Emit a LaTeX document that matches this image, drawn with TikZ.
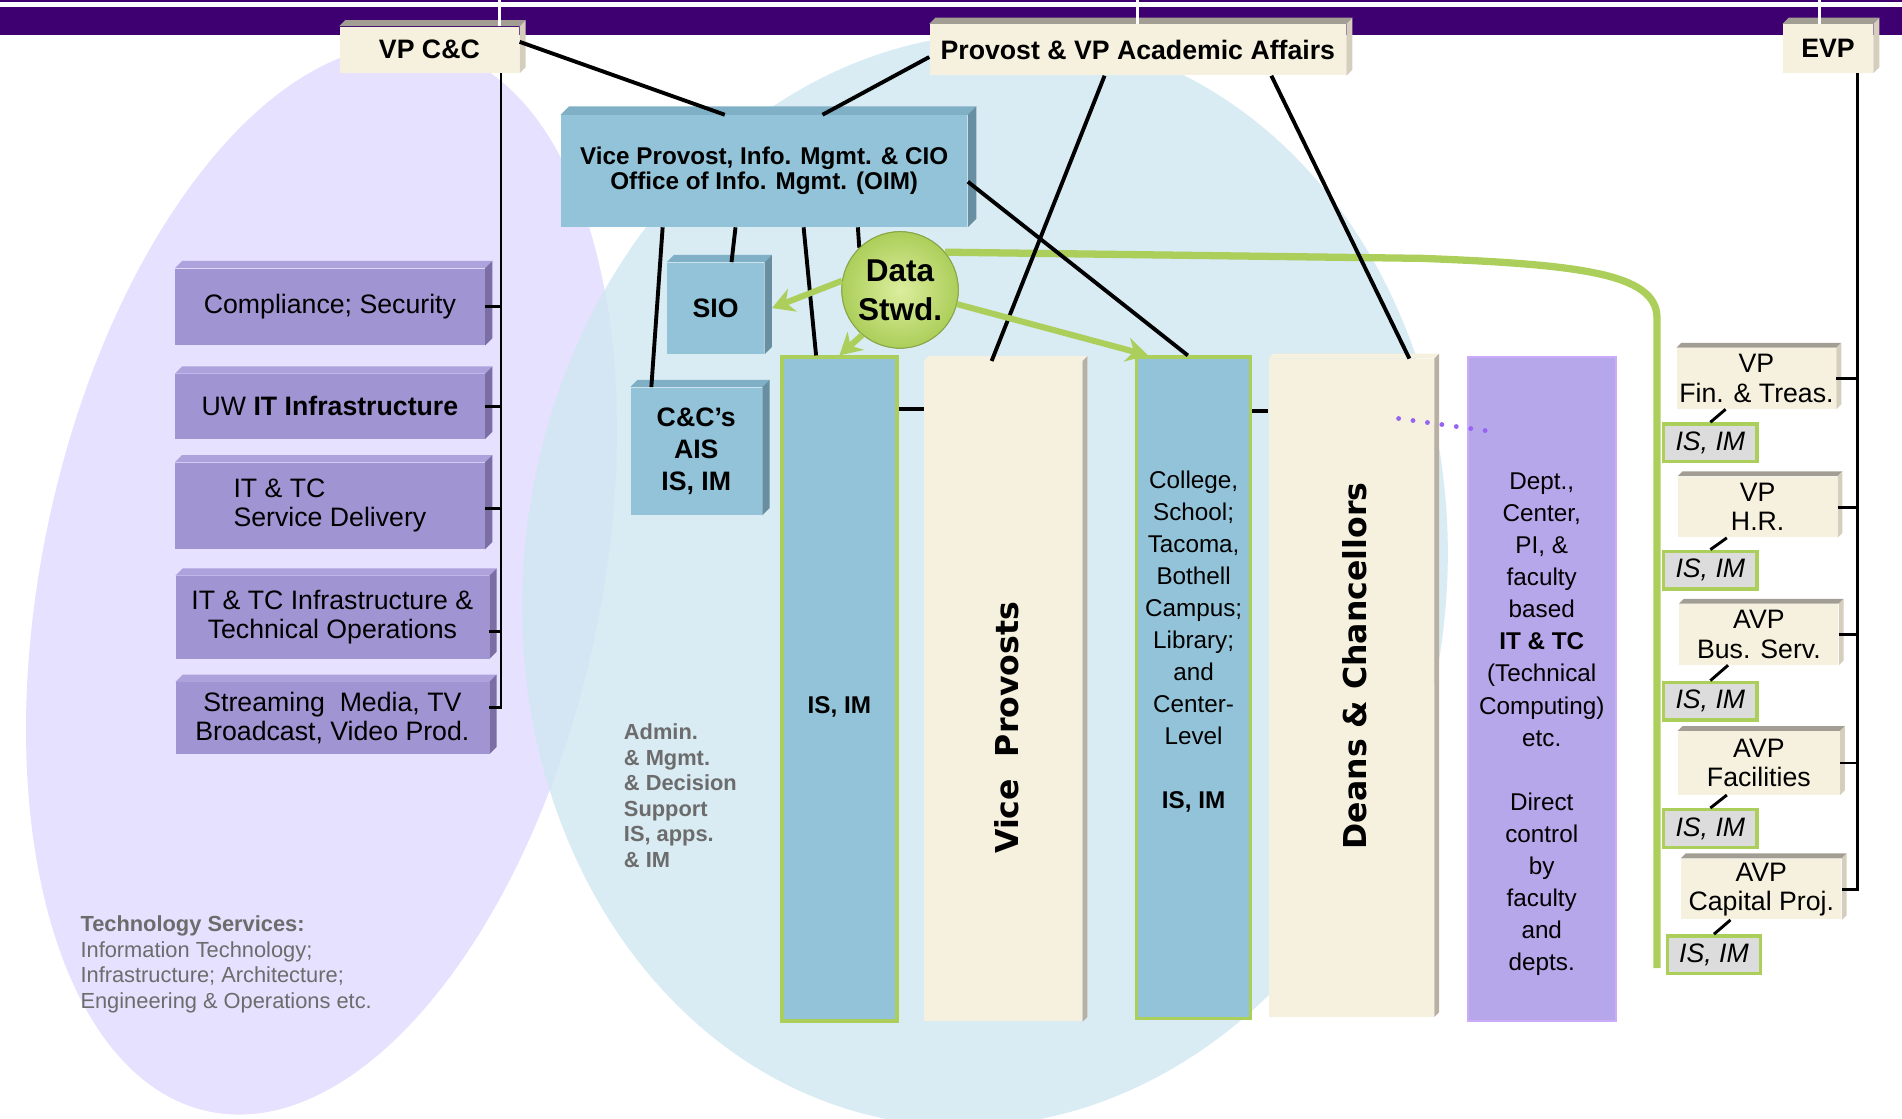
\documentclass[tikz,border=0pt]{standalone}
\usepackage{fontspec}
\setmainfont{Liberation Sans}
\newfontfamily\heavyfont{DejaVu Sans}
\usetikzlibrary{arrows.meta}
\definecolor{barcol}{RGB}{62,0,112}
\definecolor{creamcol}{RGB}{246,241,222}
\definecolor{creamtop}{RGB}{163,158,147}
\definecolor{creamside}{RGB}{214,206,188}
\definecolor{colside}{RGB}{184,176,160}
\definecolor{bluecol}{RGB}{147,195,216}
\definecolor{bluetop}{RGB}{128,176,198}
\definecolor{blueside}{RGB}{104,142,162}
\definecolor{purpcol}{RGB}{160,148,210}
\definecolor{purptop}{RGB}{174,162,220}
\definecolor{purpside}{RGB}{122,110,164}
\definecolor{deptcol}{RGB}{182,166,234}
\definecolor{deptline}{RGB}{204,172,250}
\definecolor{lavcol}{RGB}{229,225,255}
\definecolor{skycol}{RGB}{210,231,241}
\definecolor{grncol}{RGB}{172,206,90}
\definecolor{stwdlight}{RGB}{220,238,158}
\definecolor{greycol}{RGB}{220,220,220}
\definecolor{textgrey}{RGB}{108,108,108}
\definecolor{dotcol}{RGB}{150,100,240}
\tikzset{every picture/.style={x=.5pt,y=-.5pt}}
\tikzset{dims/.style 2 args={minimum width=#1*.5pt,minimum height=#2*.5pt}}
\tikzset{box/.style={inner sep=0pt,align=center,font=\fontsize{11}{12}\selectfont}}
\tikzset{headbox/.style={box,fill=creamcol,font=\fontsize{11}{13}\selectfont\bfseries}}
\tikzset{evpbox/.style={box,fill=creamcol}}
\tikzset{unitbox/.style={box,fill=purpcol}}
\tikzset{bluebox/.style={box,fill=bluecol,font=\fontsize{11}{13.2}\selectfont\bfseries}}
\tikzset{oimbox/.style={box,fill=bluecol,font=\fontsize{10}{10.5}\selectfont\bfseries}}
\tikzset{isbox/.style={box,fill=greycol,draw=grncol,line width=1.4pt,font=\fontsize{11}{12}\selectfont\itshape}}
\tikzset{bluecolumn/.style={inner sep=0pt,fill=bluecol,draw=grncol,line width=1.5pt}}
\tikzset{creamcolumn/.style={inner sep=0pt,fill=creamcol}}
\tikzset{deptcolumn/.style={inner sep=0pt,fill=deptcol,draw=deptline,line width=1pt}}
\tikzset{coltext/.style={align=center,inner sep=0pt,font=\fontsize{10}{13.2}\selectfont}}
\tikzset{sidetext/.style={rotate=90,inner sep=0pt,font=\heavyfont\bfseries\fontsize{13}{15}\selectfont}}
\tikzset{notetext/.style={align=left,inner sep=0pt,text=textgrey,font=\fontsize{9}{10.5}\selectfont}}
\tikzset{stwd/.style={circle,inner sep=0pt,minimum size=48pt,shade,inner color=stwdlight,outer color=grncol,draw=grncol!80!black,line width=.4pt,align=center,font=\fontsize{13}{16}\selectfont\bfseries}}
\tikzset{link/.style={black,line width=1.2pt}}
\tikzset{thicklink/.style={black,line width=1.6pt}}
\tikzset{barlink/.style={white,line width=1.2pt}}
\tikzset{stewline/.style={grncol,line width=3pt}}
\tikzset{stewarrow/.style={grncol,line width=2.5pt,-{Stealth[length=9pt,width=10pt]}}}
\tikzset{dotlink/.style={dotcol,line width=2pt,line cap=round,dash pattern=on 0pt off 6pt}}
\newcommand{\extrude}[4]{%
\fill[#2] (#1.north west) -- ([shift={(#4,-#4)}]#1.north west) -- ([shift={(#4,-#4)}]#1.north east) -- (#1.north east) -- cycle;
\fill[#3] (#1.north east) -- ([shift={(#4,-#4)}]#1.north east) -- ([shift={(#4,-#4)}]#1.south east) -- (#1.south east) -- cycle;}

\begin{document}
\begin{tikzpicture}
\useasboundingbox (0,0) rectangle (1568,922);
\fill[lavcol,rotate around={-12:(265,478)}] (265,478) ellipse [x radius=230,y radius=448];
\fill[skycol,opacity=.85,rotate around={-8:(812,478)}] (812,478) ellipse [x radius=380,y radius=452];

\fill[barcol] (0,0) rectangle (1568,2);
\fill[barcol] (0,6) rectangle (1568,29);
\coordinate (ccup) at (412,0);
\coordinate (provup) at (938,0);
\coordinate (evpup) at (1500,0);

\node[headbox,dims={148}{38}] (vpcc) at (354,41) {VP C\&C};
\node[headbox,dims={343}{42}] (provost) at (938,41) {Provost \& VP Academic Affairs};
\node[headbox,dims={74}{40}] (evp) at (1507,40) {EVP};
\extrude{vpcc}{creamtop}{creamside}{5}
\extrude{provost}{creamtop}{creamside}{5}
\extrude{evp}{creamtop}{creamside}{5}
\draw[barlink] (ccup) -- (ccup |- vpcc.north);
\draw[barlink] (provup) -- (provup |- provost.north);
\draw[barlink] (evpup) -- (evpup |- evp.north);

\node[unitbox,dims={255}{63}] (comp) at (272,253) {Compliance; Security};
\node[unitbox,dims={255}{53}] (uwit) at (272,335) {UW \textbf{IT Infrastructure}};
\node[unitbox,dims={255}{71},align=left] (itsd) at (272,417) {IT \& TC\\Service Delivery};
\node[unitbox,dims={258}{68}] (itto) at (274,509) {IT \& TC Infrastructure \&\\Technical Operations};
\node[unitbox,dims={258}{59}] (strm) at (274,592) {Streaming\ \ Media, TV\\Broadcast, Video Prod.};
\extrude{comp}{purptop}{purpside}{6}
\extrude{uwit}{purptop}{purpside}{6}
\extrude{itsd}{purptop}{purpside}{6}
\extrude{itto}{purptop}{purpside}{6}
\extrude{strm}{purptop}{purpside}{6}

\node[oimbox,dims={335}{92}] (oim) at (630,141) {Vice Provost, Info. Mgmt. \& CIO\\Office of Info. Mgmt. (OIM)};
\node[bluebox,dims={80}{75}] (sio) at (590,254) {SIO};
\node[bluebox,dims={108}{105}] (ais) at (574,372) {C\&C’s\\AIS\\IS, IM};
\extrude{oim}{bluetop}{blueside}{7}
\extrude{sio}{bluetop}{blueside}{6}
\extrude{ais}{bluetop}{blueside}{6}

\node[bluecolumn,dims={95}{547}] (isim) at (692,568) {};
\node[creamcolumn,dims={130}{544}] (vps) at (827,570) {};
\node[bluecolumn,dims={94}{545}] (coll) at (984,567) {};
\node[creamcolumn,dims={136}{542}] (deans) at (1114,567) {};
\node[deptcolumn,dims={122}{547}] (dept) at (1271,568) {};
\extrude{vps}{creamcol}{colside}{4}
\extrude{deans}{creamcol}{colside}{4}

\node[evpbox,dims={131}{50}] (vpft) at (1448,312) {VP\\Fin. \& Treas.};
\node[isbox,dims={77}{31}] (isim1) at (1410,365) {IS, IM};
\node[evpbox,dims={131}{50}] (vphr) at (1449,418) {VP\\H.R.};
\node[isbox,dims={77}{31}] (isim2) at (1410,470) {IS, IM};
\node[evpbox,dims={131}{50}] (avpbs) at (1450,523) {AVP\\Bus. Serv.};
\node[isbox,dims={77}{31}] (isim3) at (1410,578) {IS, IM};
\node[evpbox,dims={133}{52}] (avpf) at (1450,629) {AVP\\Facilities};
\node[isbox,dims={77}{31}] (isim4) at (1410,683) {IS, IM};
\node[evpbox,dims={132}{50}] (avpcp) at (1452,733) {AVP\\Capital Proj.};
\node[isbox,dims={77}{31}] (isim5) at (1413,787) {IS, IM};
\extrude{vpft}{creamtop}{creamside}{4}
\extrude{vphr}{creamtop}{creamside}{4}
\extrude{avpbs}{creamtop}{creamside}{4}
\extrude{avpf}{creamtop}{creamside}{4}
\extrude{avpcp}{creamtop}{creamside}{4}

\coordinate (cctrunk) at (413,0);
\coordinate (evptrunk) at (1531,0);
\draw[link] (vpcc.south -| cctrunk) |- (strm.4.9);
\draw[link] (comp.east) -- (comp.east -| cctrunk);
\draw[link] (uwit.east) -- (uwit.east -| cctrunk);
\draw[link] (itsd.-1.8) -- (itsd.-1.8 -| cctrunk);
\draw[link] (itto.-5.7) -- (itto.-5.7 -| cctrunk);
\draw[link] (evp.south -| evptrunk) |- (avpcp.east);
\draw[link] (vpft.east) -- (vpft.east -| evptrunk);
\draw[link] (vphr.east) -- (vphr.east -| evptrunk);
\draw[link] (avpbs.east) -- (avpbs.east -| evptrunk);
\draw[link] (avpf.east) -- (avpf.east -| evptrunk);
\draw[link] (vpft.225) -- (isim1.north);
\draw[link] (vphr.225) -- (isim2.north);
\draw[link] (avpbs.225) -- (isim3.north);
\draw[link] (avpf.225) -- (isim4.north);
\draw[link] (avpcp.225) -- (isim5.north);

\coordinate (greenrun) at (1173,213);
\coordinate (greenbend) at (1366,262);
\coordinate (greenend) at (1366,798);
\node[stwd] (stwd) at (742,239) {Data\\Stwd.};
\draw[stewline] (stwd.40) -- (greenrun) .. controls (1300,218) and (1366,225) .. (greenbend) -- (greenend);

\draw[thicklink] (vpcc.5) -- (oim.125);
\draw[thicklink] (provost.182) -- (oim.44);
\draw[thicklink] (provost.218) -- (vps.92);
\draw[thicklink] (provost.-11.4) -- (deans.80);
\draw[thicklink] (oim.-3) -- (coll.91);
\draw[thicklink] (oim.209) -- (ais.125);
\draw[thicklink] (oim.243) -- (sio.71);
\draw[thicklink] (oim.-55) -- (isim.94);
\draw[thicklink] (oim.-31.5) -- (stwd.134);
\draw[thicklink] (isim.78) -- (isim.78 -| vps.west);
\draw[thicklink] (coll.78.3) -- (coll.78.3 -| deans.west);
\coordinate (dotstart) at (1153,345);
\coordinate (dotend) at (1232,356);
\draw[dotlink] (dotstart) -- (dotend);

\node[stwd] (stwdtop) at (stwd) {Data\\Stwd.};
\draw[stewarrow] (stwdtop.171) -- ([xshift=3pt]sio.east);
\draw[stewarrow] (stwdtop.230) -- (isim.north);
\draw[stewarrow] (stwdtop.-14) -- ([xshift=5.5pt]coll.north west);

\node[coltext,font=\fontsize{10}{12}\selectfont\bfseries] (isimtxt) at (692,583) {IS, IM};
\node[sidetext] (vpstxt) at (830,600) {Vice\ \ Provosts};
\node[coltext] (colltxt) at (984,529) {College,\\School;\\Tacoma,\\Bothell\\Campus;\\Library;\\and\\Center-\\Level\\~\\\textbf{IS, IM}};
\node[sidetext] (deanstxt) at (1117,549) {Deans \& Chancellors};
\node[coltext] (depttxt) at (1271,597) {Dept.,\\Center,\\PI, \&\\faculty\\based\\\textbf{IT \& TC}\\(Technical\\Computing)\\etc.\\~\\Direct\\control\\by\\faculty\\and\\depts.};
\node[notetext,font=\fontsize{9}{10.5}\selectfont\bfseries,anchor=west] (admin) at (514,656) {Admin.\\\& Mgmt.\\\& Decision\\Support\\IS, apps.\\\& IM};
\node[notetext,anchor=west] (techsvc) at (66,795) {\textbf{Technology Services:}\\Information Technology;\\Infrastructure; Architecture;\\Engineering \& Operations etc.};
\end{tikzpicture}
\end{document}
